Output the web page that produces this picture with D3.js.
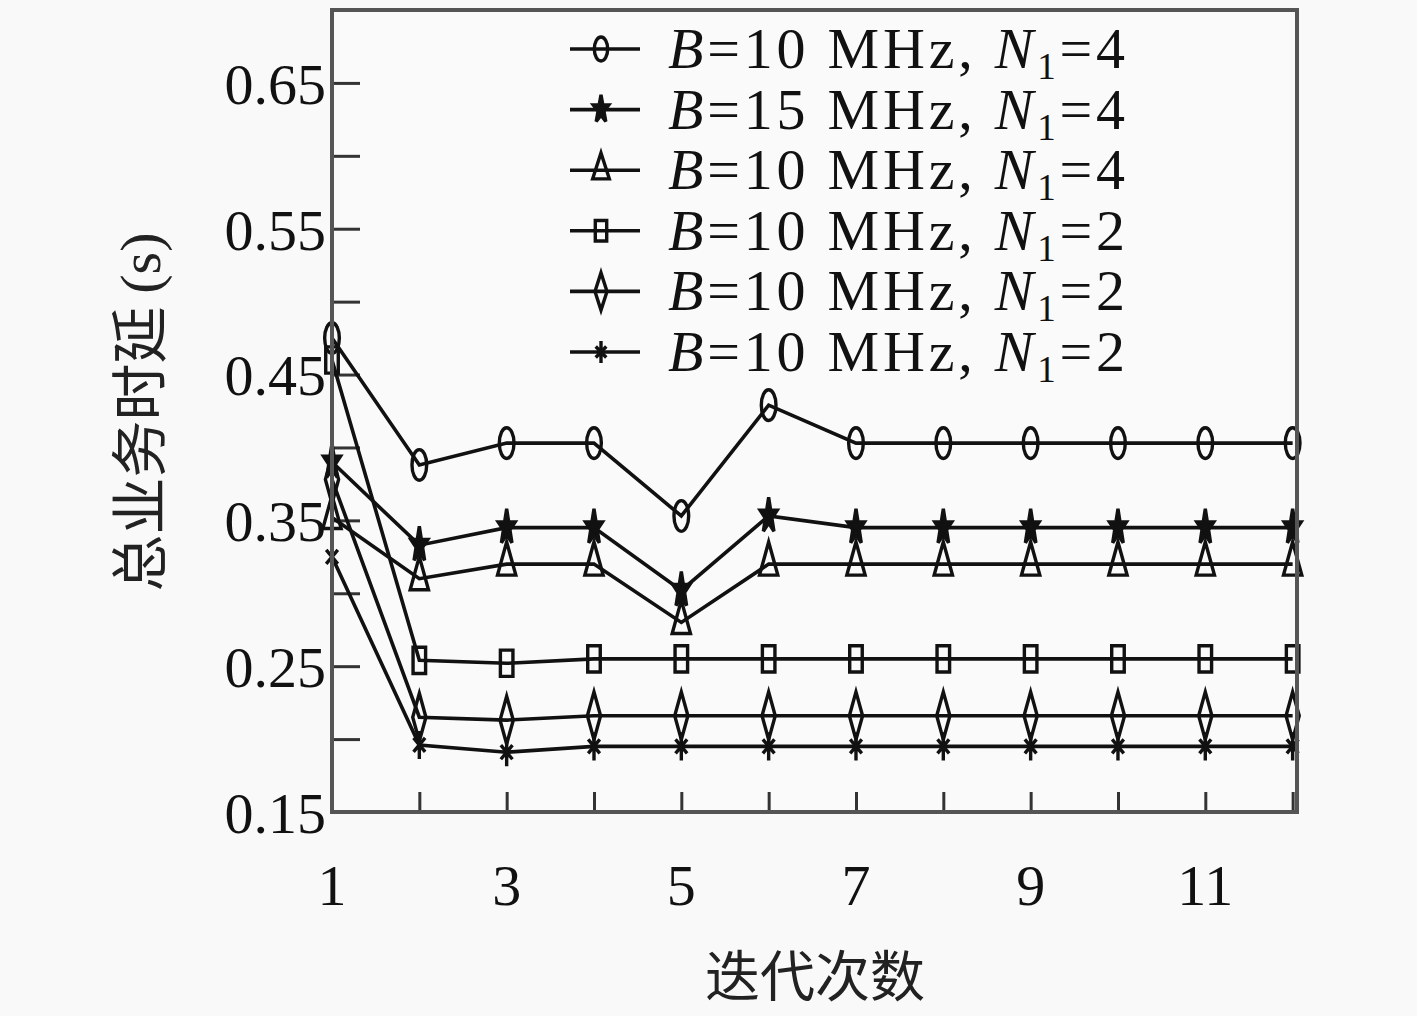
<!DOCTYPE html>
<html>
<head>
<meta charset="utf-8">
<script src="https://cdn.jsdelivr.net/npm/d3@7"></script>
<style>
  html, body { margin: 0; padding: 0; background: #f9f9f9; }
  svg { display: block; }
  .tick-label { font-family: "Liberation Serif", "DejaVu Serif", serif; font-size: 58px; fill: #111; }
  .legend text { font-family: "Liberation Serif", "DejaVu Serif", serif; font-size: 58px; fill: #111; }
  .cjk { font-family: "Noto Sans CJK SC", sans-serif; font-size: 57px; fill: #222; }
</style>
</head>
<body>
<svg width="1417" height="1016"></svg>
<script>
// iterations on the x axis
var iterations = [1, 2, 3, 4, 5, 6, 7, 8, 9, 10, 11, 12];

// total service delay (s), one array per curve
var b10n4_circle   = [0.475, 0.388, 0.403, 0.403, 0.353, 0.429, 0.403, 0.403, 0.403, 0.403, 0.403, 0.403];
var b15n4_star     = [0.390, 0.333, 0.345, 0.345, 0.302, 0.353, 0.345, 0.345, 0.345, 0.345, 0.345, 0.345];
var b10n4_triangle = [0.352, 0.310, 0.320, 0.320, 0.280, 0.320, 0.320, 0.320, 0.320, 0.320, 0.320, 0.320];
var b10n2_square   = [0.460, 0.254, 0.252, 0.255, 0.255, 0.255, 0.255, 0.255, 0.255, 0.255, 0.255, 0.255];
var b10n2_diamond  = [0.378, 0.215, 0.213, 0.216, 0.216, 0.216, 0.216, 0.216, 0.216, 0.216, 0.216, 0.216];
var b10n2_asterisk = [0.325, 0.196, 0.191, 0.195, 0.195, 0.195, 0.195, 0.195, 0.195, 0.195, 0.195, 0.195];

// legend labels: [B value, N1 value]
var legend_B  = ["10", "15", "10", "10", "10", "10"];
var legend_N1 = ["4", "4", "4", "2", "2", "2"];

var y_ticks = [0.15, 0.2, 0.25, 0.3, 0.35, 0.4, 0.45, 0.5, 0.55, 0.6, 0.65];
var y_tick_labels = ["0.15", "0.25", "0.35", "0.45", "0.55", "0.65"];
var x_tick_labels = [1, 3, 5, 7, 9, 11];

(function(){
    var svg = d3.select("svg");

    var left = 332, right = 1297, top = 10, bottom = 812;

    var x = d3.scaleLinear().domain([1, 12.05]).range([left, right]);
    var y = d3.scaleLinear().domain([0.15, 0.70]).range([bottom, top]);

    var series = [
        {values: b10n4_circle,   symbol: d3.symbolCircle,   size: 560, fill: "none"},
        {values: b15n4_star,     symbol: d3.symbolStar,     size: 300, fill: "#111"},
        {values: b10n4_triangle, symbol: d3.symbolTriangle, size: 480, fill: "none"},
        {values: b10n2_square,   symbol: d3.symbolSquare,   size: 520, fill: "none"},
        {values: b10n2_diamond,  symbol: d3.symbolDiamond,  size: 500, fill: "none"},
        {values: b10n2_asterisk, symbol: d3.symbolAsterisk, size: 420, fill: "none"}
    ];

    // plot background
    svg.append("rect")
        .attr("x", left).attr("y", top)
        .attr("width", right - left).attr("height", bottom - top)
        .attr("fill", "#fafafa");

    // inward ticks
    var yAxis = d3.axisRight(y).tickValues(y_ticks).tickSize(28).tickFormat("");
    svg.append("g")
        .attr("transform", "translate(" + left + ",0)")
        .call(yAxis)
        .call(function(g){ g.select(".domain").remove(); })
        .selectAll("line").attr("stroke", "#333").attr("stroke-width", 3);

    var xAxis = d3.axisTop(x).tickValues(iterations).tickSize(20).tickFormat("");
    svg.append("g")
        .attr("transform", "translate(0," + bottom + ")")
        .call(xAxis)
        .call(function(g){ g.select(".domain").remove(); })
        .selectAll("line").attr("stroke", "#333").attr("stroke-width", 3);

    // tick labels
    svg.append("g").selectAll("text")
        .data(y_tick_labels)
        .enter().append("text")
        .attr("class", "tick-label")
        .attr("x", left - 6)
        .attr("y", function(d){ return y(+d); })
        .attr("dy", "0.36em")
        .attr("text-anchor", "end")
        .text(function(d){ return d; });

    svg.append("g").selectAll("text")
        .data(x_tick_labels)
        .enter().append("text")
        .attr("class", "tick-label")
        .attr("x", function(d){ return x(d); })
        .attr("y", 905)
        .attr("text-anchor", "middle")
        .text(function(d){ return d; });

    // axis titles
    svg.append("text")
        .attr("class", "cjk")
        .attr("text-anchor", "middle")
        .attr("transform", "translate(160,412) rotate(-90)")
        .text("总业务时延 ")
        .append("tspan")
        .style("font-family", "'Liberation Serif', serif")
        .style("font-size", "58px")
        .text("(s)");

    svg.append("text")
        .attr("class", "cjk")
        .attr("x", 815).attr("y", 996)
        .style("font-size", "55px")
        .attr("text-anchor", "middle")
        .text("迭代次数");

    var line = d3.line()
        .x(function(d, i){ return x(iterations[i]); })
        .y(function(d){ return y(d); });

    function draw_marker(sel, s) {
        sel.attr("d", d3.symbol().type(s.symbol).size(s.size)())
            .attr("fill", s.fill)
            .attr("stroke", "#111")
            .attr("stroke-width", 3.4)
            .attr("vector-effect", "non-scaling-stroke");
    }

    // curves
    var plot = svg.append("g");
    series.forEach(function(s){
        plot.append("path")
            .datum(s.values)
            .attr("d", line)
            .attr("fill", "none")
            .attr("stroke", "#111")
            .attr("stroke-width", 3.6);
    });
    series.forEach(function(s){
        plot.append("g").selectAll("path")
            .data(s.values)
            .enter().append("path")
            .attr("transform", function(d, i){
                return "translate(" + x(iterations[i]) + "," + y(d) + ") scale(0.55,1.15)";
            })
            .call(draw_marker, s);
    });

    // legend
    var legend = svg.append("g").attr("class", "legend");
    var lx0 = 570, lx1 = 640, row0 = 49, row_h = 60.6;
    series.forEach(function(s, i){
        var yy = row0 + i * row_h;
        legend.append("line")
            .attr("x1", lx0).attr("x2", lx1)
            .attr("y1", yy).attr("y2", yy)
            .attr("stroke", "#111").attr("stroke-width", 3.6);
        legend.append("path")
            .attr("transform", "translate(" + ((lx0 + lx1) / 2 - 4) + "," + yy + ") scale(0.5,0.9)")
            .call(draw_marker, s);
        var t = legend.append("text")
            .attr("x", 668).attr("y", yy + 19)
            .attr("textLength", 457)
            .attr("lengthAdjust", "spacing");
        t.append("tspan").style("font-style", "italic").text("B");
        t.append("tspan").text("=" + legend_B[i] + " MHz, ");
        t.append("tspan").style("font-style", "italic").text("N");
        t.append("tspan").attr("dy", 11).style("font-size", "37px").text("1");
        t.append("tspan").attr("dy", -11).text("=" + legend_N1[i]);
    });

    // frame
    svg.append("rect")
        .attr("x", left).attr("y", top)
        .attr("width", right - left).attr("height", bottom - top)
        .attr("fill", "none")
        .attr("stroke", "#555")
        .attr("stroke-width", 4);
})();
</script>
</body>
</html>
